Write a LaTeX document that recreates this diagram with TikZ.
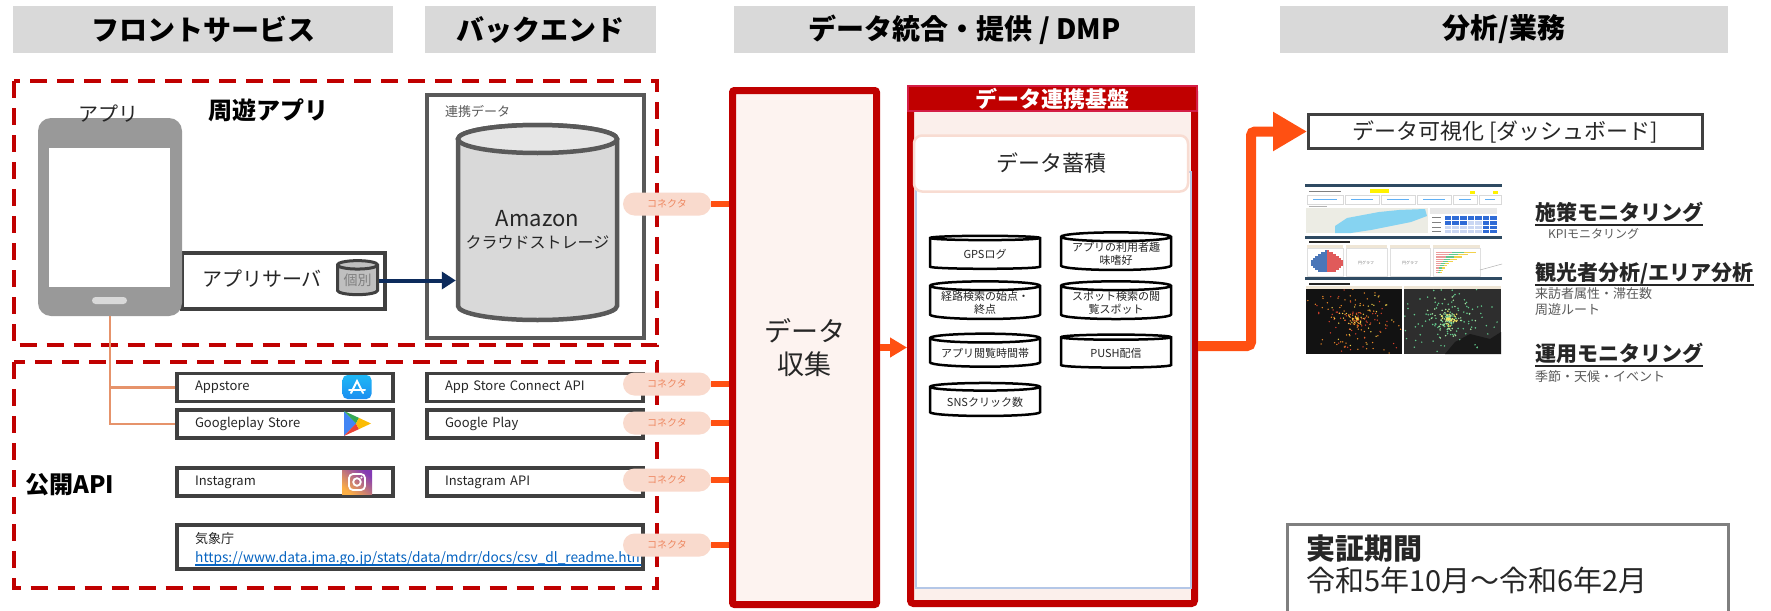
\documentclass[tikz,border=0pt]{standalone}
\usepackage{fontspec}
\setmainfont{Noto Sans CJK JP}
\usetikzlibrary{calc,positioning,arrows.meta,shapes.geometric}

\definecolor{hdrgray}{HTML}{D9D9D9}
\definecolor{dkred}{HTML}{C00000}
\definecolor{dmpedge}{HTML}{D41E46}
\definecolor{boxline}{HTML}{404040}
\definecolor{cylline}{HTML}{595959}
\definecolor{cylbody}{HTML}{D9D9D9}
\definecolor{cylend}{HTML}{E6E6E6}
\definecolor{pillfill}{HTML}{F9DACD}
\definecolor{pilltext}{HTML}{EE8760}
\definecolor{flow}{HTML}{FF5012}
\definecolor{collfill}{HTML}{FDF3F0}
\definecolor{dmpfill}{HTML}{FBEFEB}
\definecolor{stockline}{HTML}{F8DCD2}
\definecolor{panelblue}{HTML}{B4C7E7}
\definecolor{navy}{HTML}{0C2B5C}
\definecolor{salmon}{HTML}{E6936B}
\definecolor{linkblue}{HTML}{0563C1}
\definecolor{txt}{HTML}{262626}
\definecolor{subtxt}{HTML}{595959}
\definecolor{phonegray}{HTML}{999999}
\definecolor{periodline}{HTML}{7F7F7F}
\definecolor{asblue}{HTML}{1C8EF0}
\definecolor{asblueb}{HTML}{1FB8F6}
\definecolor{gpblue}{HTML}{4285F4}
\definecolor{gpgreen}{HTML}{34A853}
\definecolor{gpyellow}{HTML}{FBBC04}
\definecolor{gpred}{HTML}{EA4335}
\definecolor{igyellow}{HTML}{FCAF45}
\definecolor{igpink}{HTML}{E1306C}
\definecolor{igpurple}{HTML}{833AB4}
\definecolor{dbnav}{HTML}{2E4A62}
\definecolor{dbland}{HTML}{ECECE4}
\definecolor{dbsea}{HTML}{86D3F1}
\definecolor{tabdark}{HTML}{2F6BD6}
\definecolor{tablight}{HTML}{CAD7F3}
\definecolor{dbbeige}{HTML}{EFE6D6}
\definecolor{pyblue}{HTML}{4A76B8}
\definecolor{pyred}{HTML}{E05A5A}
\definecolor{heatA}{HTML}{F28C28}
\definecolor{heatB}{HTML}{D9402B}
\definecolor{heatC}{HTML}{F2D14B}
\definecolor{flowA}{HTML}{62C98C}
\definecolor{flowB}{HTML}{A6E3A0}
\definecolor{flowC}{HTML}{F5E663}

\newcommand{\pxfont}[1]{\fontsize{#1}{#1}\selectfont}

\begin{document}
\begin{tikzpicture}[x=1pt, y=-1pt,
    header/.style={fill=hdrgray, inner sep=0pt, minimum height=47pt, font=\pxfont{28}\bfseries},
    zone/.style={draw=dkred, line width=4pt, dash pattern=on 17pt off 10pt},
    boxframe/.style={draw=boxline, line width=3.5pt, inner sep=0pt},
    apibox/.style={boxframe, minimum width=216pt, minimum height=28pt, text width=180pt, inner xsep=18pt, align=left, font=\pxfont{13}, text=txt},
    connector/.style={fill=pillfill, rounded corners=11.5pt, minimum width=88pt, minimum height=23pt, inner sep=0pt, font=\pxfont{10}, text=pilltext},
    feed/.style={draw=flow, line width=6pt},
    drum/.style={cylinder, shape border rotate=90, aspect=0.1, draw=black, line width=2.5pt, fill=white, minimum width=110pt, minimum height=33pt, inner sep=0pt, align=center, font=\pxfont{11}, text=txt},
    topic/.style={anchor=base west, inner sep=0pt, font=\pxfont{21}\bfseries, text=txt},
    note/.style={anchor=base west, inner sep=0pt, font=\pxfont{13}, text=subtxt},
    ul/.style={draw=txt, line width=2.5pt},
]
    \useasboundingbox (0,0) rectangle (1771,610);
    \fill[white] (0,0) rectangle (1771,610);

    \node[header, minimum width=380pt] (hfront) at (203,29.5) {フロントサービス};
    \node[header, minimum width=231pt] (hback) at (540.5,29.5) {バックエンド};
    \node[header, minimum width=461pt] (hdmp) at (964.5,29.5) {データ統合・提供 / DMP};
    \node[header, minimum width=448pt] (hbiz) at (1504,29.5) {分析/業務};

    \draw[zone] (13.5,81) rectangle (657,345);
    \draw[zone] (13.5,362) rectangle (657,588);

    % backend storage
    \node[draw=cylline, line width=4pt, minimum width=217pt, minimum height=243pt] (backbox) at (535.5,216.5) {};
    \node[anchor=west, inner sep=0pt, font=\pxfont{13}, text=subtxt] (linklabel) at (445,112) {連携データ};
    \node[inner sep=0pt, minimum width=163pt, minimum height=199pt] (storage) at (537.5,222.5) {};
    \path[draw=cylline, line width=4.5pt, fill=cylbody] (458,139) -- (458,306)
        arc[start angle=180, end angle=0, x radius=79.5, y radius=14] -- (617,139)
        arc[start angle=0, end angle=-180, x radius=79.5, y radius=14] -- cycle;
    \draw[cylline, line width=4.5pt, fill=cylend] (537.5,139) ellipse [x radius=79.5, y radius=14];
    \node[font=\pxfont{22}, text=txt] (amazon) at ($(storage.center)+(0,-4)$) {Amazon};
    \node[font=\pxfont{16}, text=txt] (amazonsub) at ($(storage.center)+(0,20)$) {クラウドストレージ};

    \node[boxframe, minimum width=203pt, minimum height=56pt] (appserver) at (283.5,281) {};
    \node[inner sep=0pt, font=\pxfont{20}, text=txt] (serverlabel) at (262,279) {アプリサーバ};
    \node[cylinder, shape border rotate=90, aspect=0.3, draw=boxline, line width=3pt, fill=gray!50,
          minimum width=40pt, minimum height=34pt, inner sep=0pt, font=\pxfont{14}, text=gray] (indiv) at (357.5,280.5) {個別};
    \draw[navy, line width=4pt, -{Triangle[length=14pt,width=17pt]}] (indiv.east) -- (indiv.east -| storage.west);

    % smartphone
    \node[fill=phonegray, rounded corners=13pt, minimum width=144pt, minimum height=198pt] (phone) at (110,217) {};
    \node[fill=white, inner sep=0pt, minimum width=121pt, minimum height=139pt] (screen) at (109.5,217.5) {};
    \node[fill=hdrgray, rounded corners=3.5pt, inner sep=0pt, minimum width=35pt, minimum height=7pt] (homekey) at (109.5,300.5) {};
    \node[font=\pxfont{20}, text=txt] (applabel) at (108,114) {アプリ};
    \node[font=\pxfont{24}\bfseries] (tourapp) at (268,110) {周遊アプリ};

    % public api sources
    \node[apibox] (appstore) at (285,387.5) {Appstore};
    \node[apibox] (gplay) at (285,424) {Googleplay Store};
    \node[apibox] (insta) at (285,482) {Instagram};
    \node[apibox] (ascapi) at (535,387.5) {App Store Connect API};
    \node[apibox] (gplayapi) at (535,424) {Google Play};
    \node[apibox] (instaapi) at (535,482) {Instagram API};
    \node[boxframe, minimum width=466pt, minimum height=44pt] (jma) at (410,547) {};
    \begin{scope}
        \clip (jma.north west) rectangle ($(jma.south east)+(-3.5,0)$);
        \node[anchor=base west, inner sep=0pt, font=\pxfont{13}, text=txt] (jmaname) at (195,543) {気象庁};
        \node[anchor=base west, inner sep=0pt, font=\pxfont{13.7}, text=linkblue] (jmaurl) at (195,562) {https://www.data.jma.go.jp/stats/data/mdrr/docs/csv\_dl\_readme.html};
        \draw[linkblue, line width=2pt] ($(jmaurl.base west)+(0,3)$) -- ($(jmaurl.base east)+(0,3)$);
    \end{scope}
    \node[anchor=west, inner sep=0pt, font=\pxfont{24}\bfseries] (openapi) at (25,485) {公開API};

    \node[rounded corners=5pt, top color=asblueb, bottom color=asblue, minimum width=29pt, minimum height=24pt, inner sep=0pt] (asicon) at (357,387) {};
    \draw[white, line width=2pt, line cap=round] ($(asicon.center)+(-6,6)$) -- ($(asicon.center)+(0,-6)$) -- ($(asicon.center)+(6,6)$);
    \draw[white, line width=2pt, line cap=round] ($(asicon.center)+(-8,2.5)$) -- ($(asicon.center)+(8,2.5)$);

    \coordinate (gpicon) at (357,423.5);
    \fill[gpblue] ($(gpicon)+(-13,-12.5)$) -- ($(gpicon)+(-1,0)$) -- ($(gpicon)+(-13,12.5)$) -- cycle;
    \fill[gpgreen] ($(gpicon)+(-13,-12.5)$) -- ($(gpicon)+(2,-5.6)$) -- ($(gpicon)+(-1,0)$) -- cycle;
    \fill[gpred] ($(gpicon)+(-13,12.5)$) -- ($(gpicon)+(2,5.6)$) -- ($(gpicon)+(-1,0)$) -- cycle;
    \fill[gpyellow] ($(gpicon)+(2,-5.6)$) -- ($(gpicon)+(14,0)$) -- ($(gpicon)+(2,5.6)$) -- ($(gpicon)+(-1,0)$) -- cycle;

    \node[bottom color=igyellow, middle color=igpink, top color=igpurple, shading angle=-40, minimum width=30pt, minimum height=24pt, inner sep=0pt] (igicon) at (357,482) {};
    \draw[white, line width=1.8pt, rounded corners=4pt] ($(igicon.center)+(-8,-8)$) rectangle ($(igicon.center)+(8,8)$);
    \draw[white, line width=1.8pt] (igicon.center) circle (3.8pt);
    \fill[white] ($(igicon.center)+(4.5,-4.5)$) circle (1.2pt);

    \draw[salmon, line width=2.5pt] (phone.south) -- (phone.south |- gplay.west) -- (gplay.west);
    \draw[salmon, line width=2.5pt] (phone.south |- appstore.west) -- (appstore.west);

    % collection and dmp
    \node[draw=dkred, fill=collfill, line width=7pt, rounded corners=2pt, minimum width=144pt, minimum height=514pt,
          align=center, font=\pxfont{27}, text=txt] (collect) at (804.5,347.5) {データ\\[6pt]収集};

    \node[draw=dkred, fill=dmpfill, line width=7pt, rounded corners=3pt, minimum width=284pt, minimum height=515pt] (dmp) at (1052.5,346) {};
    \node[fill=dkred, draw=dmpedge, line width=1.5pt, inner sep=0pt, minimum width=289pt, minimum height=25pt,
          font=\pxfont{22}\bfseries, text=white] (dmptitle) at (1052.5,98.5) {データ連携基盤};
    \node[fill=white, draw=panelblue, line width=2pt, minimum width=275pt, minimum height=416pt] (panel) at (1053.5,380) {};
    \node[fill=white, draw=stockline, line width=2.5pt, rounded corners=8pt, minimum width=274pt, minimum height=56pt,
          font=\pxfont{22}, text=txt] (stock) at (1051,163.5) {データ蓄積};

    \node[drum] (gps) at (985,254) {GPSログ};
    \node[drum] (hobby) at (1116,254) {アプリの利用者趣\\[2pt]味嗜好};
    \node[drum] (route) at (985,303) {経路検索の始点・\\[2pt]終点};
    \node[drum] (spot) at (1116,303) {スポット検索の閲\\[2pt]覧スポット};
    \node[drum] (hours) at (985,353) {アプリ閲覧時間帯};
    \node[drum] (push) at (1116,353) {PUSH配信};
    \node[drum] (sns) at (985,402) {SNSクリック数};

    \foreach \src/\yy in {link/204, ascapi/384, gplayapi/423, instaapi/480, jma/545} {
        \node[connector] (conn-\src) at (667,\yy) {コネクタ};
        \draw[feed] (conn-\src.east) -- (conn-\src.east -| collect.west);
    }

    \draw[flow, line width=7pt, -{Triangle[length=17pt,width=19pt]}] (collect.east) -- (collect.east -| dmp.west);

    % analysis side
    \node[draw=boxline, line width=3pt, minimum width=394pt, minimum height=34pt, font=\pxfont{22}, text=txt] (dash) at (1505.5,131.5) {データ可視化 [ダッシュボード]};
    \coordinate (bend) at ($(dmp.east)+(53,0)$);
    \draw[flow, line width=10pt, rounded corners=4pt, -{Triangle[length=34pt,width=37pt]}] (dmp.east) -- (bend) |- (dash.west);

    \begin{scope}[shift={(1305,184)}]
        \fill[white] (0,0) rectangle (197,170);
        \fill[dbnav] (0,0) rectangle (197,3);
        \draw[gray, line width=1pt] (4,7) -- (36,7);
        \fill[yellow] (65,5) rectangle (84,9);
        \fill[yellow] (165,7) rectangle (170,10);
        \fill[yellow] (188,7) rectangle (193,10);
        \foreach \a/\b in {2/38, 40/74, 76/110, 112/146, 148/172, 174/196} {
            \draw[gray!30, line width=0.4pt] (\a,11) rectangle (\b,20);
            \draw[asblue!70, line width=0.8pt] ({\a+6},15) -- ({\b-6},15);
        }
        \draw[gray!60, line width=0.8pt] (4,22) -- (22,22);
        \fill[dbland] (1,24) rectangle (123,49);
        \fill[dbsea] (30,42) -- (42,34) -- (58,31) -- (74,28) -- (94,26) -- (120,25) -- (122,32) -- (106,38) -- (86,42) -- (66,46) -- (46,49) -- (30,49) -- cycle;
        \fill[hdrgray!60] (125,24) rectangle (192,30);
        \fill[tabdark] (139,31) rectangle (192,36);
        \fill[tabdark] (139,36) rectangle (162,41);
        \fill[tablight] (162,36) rectangle (177,41);
        \fill[tablight] (139,41) rectangle (177,49);
        \fill[tabdark] (177,36) rectangle (192,49);
        \foreach \c in {0,...,7} \draw[white, line width=0.4pt] ({139+7.57*\c},31) -- ({139+7.57*\c},49);
        \foreach \r in {31,36,41,45,49} \draw[white, line width=0.4pt] (139,\r) -- (192,\r);
        \foreach \r in {33,38,43,47} \draw[gray, line width=0.6pt] (127,\r) -- (136,\r);
        \fill[dbnav] (0,52) rectangle (197,54.5);
        \draw[txt, line width=1.2pt] (4,58) -- (45,58);
        \foreach \a/\b in {2/38, 41/82, 85/125, 128/175} {
            \fill[dbbeige] (\a,61) rectangle (\b,64);
            \draw[gray!25, line width=0.4pt] (\a,64) rectangle (\b,92);
        }
        \foreach \i in {0,...,10} {
            \pgfmathsetmacro\w{14*sin(\i*15)+2}
            \fill[pyblue] ({22-\w},{66+2*\i}) rectangle (22,{67.6+2*\i});
            \fill[pyred] (22,{66+2*\i}) rectangle ({22+\w},{67.6+2*\i});
        }
        \node[font=\pxfont{4}, text=gray] (pieA) at (61,79) {円グラフ};
        \node[font=\pxfont{4}, text=gray] (pieB) at (105,79) {円グラフ};
        \foreach \i in {0,...,9} {
            \pgfmathsetmacro\l{40*exp(-0.22*\i)}
            \fill[pyred!60] (131,{68+2.2*\i}) rectangle ({131+0.4*\l},{69.2+2.2*\i});
            \fill[flowA] ({131+0.4*\l},{68+2.2*\i}) rectangle ({131+0.7*\l},{69.2+2.2*\i});
            \fill[heatC] ({131+0.7*\l},{68+2.2*\i}) rectangle ({131+\l},{69.2+2.2*\i});
        }
        \draw[gray!60, line width=0.5pt] (175,86) -- (197,80);
        \fill[dbnav] (0,93) rectangle (197,96);
        \draw[txt, line width=1.2pt] (4,100) -- (45,100);
        \fill[dbbeige] (1,102) rectangle (97,105);
        \fill[dbbeige] (99,102) rectangle (196,105);
        \fill[black!93] (1,105) rectangle (97,170);
        \fill[black!82] (99,105) rectangle (196,170);
        \fill[black!90] (150,158) -- (165,150) -- (185,155) -- (196,148) -- (196,170) -- (140,170) -- cycle;
        \pgfmathsetseed{11}
        \begin{scope}
            \clip (1,105) rectangle (97,170);
            \foreach \col/\num/\spread in {heatA/110/60, heatB/70/55, heatC/50/35} {
                \foreach \k in {1,...,\num} {
                    \pgfmathsetmacro\ang{360*rnd}
                    \pgfmathsetmacro\rad{\spread*pow(rnd,1.3)}
                    \fill[\col] ({52+\rad*cos(\ang)},{135+0.8*\rad*sin(\ang)}) circle (0.75pt);
                }
            }
        \end{scope}
        \begin{scope}
            \clip (99,105) rectangle (196,170);
            \foreach \col/\num/\spread in {flowA/150/50, flowB/70/30, flowC/40/10} {
                \foreach \k in {1,...,\num} {
                    \pgfmathsetmacro\ang{360*rnd}
                    \pgfmathsetmacro\rad{\spread*pow(rnd,1.4)}
                    \fill[\col] ({144+\rad*cos(\ang)},{135+0.8*\rad*sin(\ang)}) circle (0.85pt);
                }
            }
        \end{scope}
    \end{scope}

    \node[topic] (kpi) at (1535,220) {施策モニタリング};
    \draw[ul] ($(kpi.base west)+(0,5)$) -- ($(kpi.base east)+(0,5)$);
    \node[note, font=\pxfont{12}] (kpinote) at (1548,238) {KPIモニタリング};

    \node[topic] (visitor) at (1535,280) {観光者分析/エリア分析};
    \draw[ul] ($(visitor.base west)+(0,5)$) -- ($(visitor.base east)+(0,5)$);
    \node[note] (visitornote) at (1535,298) {来訪者属性・滞在数};
    \node[note] (routenote) at (1535,314) {周遊ルート};

    \node[topic] (ops) at (1535,361) {運用モニタリング};
    \draw[ul] ($(ops.base west)+(0,5)$) -- ($(ops.base east)+(0,5)$);
    \node[note] (opsnote) at (1535,381) {季節・天候・イベント};

    \node[draw=periodline, line width=3pt, anchor=north west, minimum width=441pt, minimum height=110pt] (period) at (1286,523) {};
    \node[anchor=base west, inner sep=0pt, font=\pxfont{29}\bfseries, text=txt] (periodtitle) at (1306,559) {実証期間};
    \node[anchor=base west, inner sep=0pt, font=\pxfont{29}, text=txt] (periodspan) at (1306,591) {令和5年10月～令和6年2月};
\end{tikzpicture}
\end{document}
